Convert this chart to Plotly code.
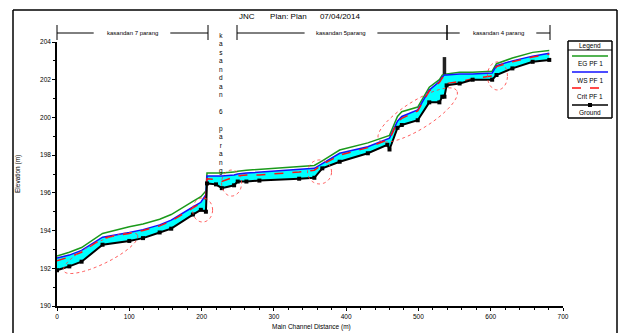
import math
import plotly.graph_objects as go

# ---------------- data ----------------
station = [0, 17, 34, 63, 100, 119, 142, 158, 188, 199, 206, 207.5, 220, 228, 245, 250, 262, 280,
           335, 356, 367, 391, 430, 457, 460, 471, 477, 499, 515, 529, 533, 536, 539, 557, 575,
           602, 608, 630, 658, 681]
ground = [191.9, 192.1, 192.35, 193.25, 193.45, 193.6, 193.9, 194.1, 194.85, 195.1, 195.0, 196.5,
          196.45, 196.25, 196.4, 196.6, 196.6, 196.65, 196.75, 196.8, 197.3, 197.65, 198.1, 198.55,
          198.3, 199.45, 199.6, 199.85, 200.8, 200.8, 201.1, 201.1, 201.7, 201.8, 202.0, 202.0,
          202.25, 202.6, 202.95, 203.05]
ws = [192.55, 192.7, 192.95, 193.65, 193.9, 194.05, 194.3, 194.55, 195.25, 195.5, 195.9, 196.9,
      196.9, 196.9, 196.95, 197.0, 197.05, 197.1, 197.25, 197.3, 197.55, 198.1, 198.45, 198.85,
      198.9, 199.8, 200.05, 200.4, 201.45, 201.9, 202.15, 202.25, 202.25, 202.3, 202.3, 202.35,
      202.75, 203.0, 203.25, 203.4]
eg = [192.65, 192.85, 193.1, 193.85, 194.2, 194.35, 194.6, 194.85, 195.55, 195.8, 196.1, 197.05,
      197.05, 197.05, 197.1, 197.15, 197.2, 197.25, 197.4, 197.45, 197.7, 198.27, 198.65, 199.0,
      199.05, 200.05, 200.3, 200.55, 201.6, 202.0, 202.25, 202.3, 202.3, 202.4, 202.4, 202.45,
      202.85, 203.15, 203.45, 203.55]
crit = [192.4, 192.6, 192.85, 193.6, 193.85, 194.0, 194.25, 194.5, 195.2, 195.45, 195.8, 196.75,
        196.7, 196.6, 196.85, 196.9, 196.95, 196.95, 197.1, 197.2, 197.5, 198.0, 198.4, 198.8,
        198.85, 199.75, 199.95, 200.35, 201.4, 201.85, 202.1, 202.15, 201.8, 201.9, 202.05, 202.2,
        202.7, 202.95, 203.2, 203.35]

struct_station = [536, 536]
struct_elev = [202.3, 203.2]

x_ticks = [0, 100, 200, 300, 400, 500, 600, 700]
y_ticks = [190, 192, 194, 196, 198, 200, 202, 204]

title_text = "JNC       Plan: Plan      07/04/2014"
reaches = [  # (start px, end px, label, text center px)
    (57, 208, "kasandan 7 parang", 132),
    (237, 447, "kasandan 5parang", 341),
    (447, 550, "kasandan 4 parang", 498),
]
vertical_label = "kasandan 6 parang"

# ellipses: center station, center elevation, rx px, ry px, angle deg
ellipses = [
    (60.4, 192.81, 41, 11, 26),
    (201.4, 195.09, 10, 12, 0),
    (241.5, 196.52, 10, 13, 0),
    (363.2, 197.11, 12, 12, 0),
    (499.0, 200.13, 46, 14, 32),
    (609.3, 202.2, 10, 14, 0),
]

# ---------------- layout geometry ----------------
W, H = 625, 333
L, R, T, B = 57, 563, 42, 306
PW, PH = R - L, B - T
XPX = PW / 700.0
YPX = PH / 14.0
FONT = "Liberation Sans"


def P(xp, yp):
    return (xp - L) / PW, (B - yp) / PH


fig = go.Figure()

# cyan fill between ground and water surface
fig.add_trace(go.Scatter(x=station, y=ground, mode="lines", line=dict(color="black", width=0),
                         showlegend=False, hoverinfo="skip"))
fig.add_trace(go.Scatter(x=station, y=ws, mode="lines", line=dict(color="rgba(0,0,0,0)", width=0),
                         fill="tonexty", fillcolor="#00FFFF", showlegend=False, hoverinfo="skip"))
fig.add_trace(go.Scatter(x=station, y=eg, mode="lines", line=dict(color="#1a9a1a", width=1.5),
                         name="EG PF 1", showlegend=False))
fig.add_trace(go.Scatter(x=station, y=ws, mode="lines", line=dict(color="#1010ff", width=1.5),
                         name="WS PF 1", showlegend=False))
fig.add_trace(go.Scatter(x=station, y=crit, mode="lines", line=dict(color="#ff1010", width=1.5, dash="dash"),
                         name="Crit PF 1", showlegend=False))
fig.add_trace(go.Scatter(x=station, y=ground, mode="lines+markers", line=dict(color="black", width=2),
                         marker=dict(symbol="square", size=4, color="black"),
                         name="Ground", showlegend=False))
fig.add_trace(go.Scatter(x=struct_station, y=struct_elev, mode="lines",
                         line=dict(color="#222222", width=3.5), showlegend=False))

shapes = []
annotations = []


def pline(x0p, y0p, x1p, y1p, color="black", width=1.0, dash="solid"):
    a0, b0 = P(x0p, y0p)
    a1, b1 = P(x1p, y1p)
    shapes.append(dict(type="line", xref="paper", yref="paper", x0=a0, y0=b0, x1=a1, y1=b1,
                       line=dict(color=color, width=width, dash=dash)))


def ptext(txt, xp, yp, size=6.5, xanchor="center", angle=0):
    a, b = P(xp, yp)
    annotations.append(dict(text=txt, x=a, y=b, xref="paper", yref="paper", showarrow=False,
                            xanchor=xanchor, yanchor="middle", textangle=angle,
                            font=dict(family=FONT, size=size, color="black")))


# red dotted ellipses
for cx, cy, rx, ry, ang in ellipses:
    a = math.radians(ang)
    pts = []
    for i in range(73):
        t = 2 * math.pi * i / 72
        dx = rx * math.cos(t) * math.cos(a) - ry * math.sin(t) * math.sin(a)
        dy = rx * math.cos(t) * math.sin(a) + ry * math.sin(t) * math.cos(a)
        pts.append((cx + dx / XPX, cy + dy / YPX))
    path = "M " + " L ".join(f"{px:.3f},{py:.4f}" for px, py in pts) + " Z"
    shapes.append(dict(type="path", path=path, xref="x", yref="y",
                       line=dict(color="rgba(255,60,60,0.85)", width=1, dash="dot")))

# outer frame
pline(13, 10, 617, 10, width=1.5)
pline(13, 10, 13, 340, width=1.5)
pline(617, 10, 617, 340, width=1.5)

# title
ptext(title_text, 237, 17, size=8, xanchor="left")

# reach labels
yr = 33
for x0, x1, lab, cpx in reaches:
    half = len(lab) * 1.9 + 6
    pline(x0, yr, cpx - half, yr)
    pline(cpx + half, yr, x1, yr)
    for xe in (x0, x1):
        pline(xe, 25, xe, 40)
    ptext(lab, cpx, yr, size=6)

va, vb = P(221, 30)
annotations.append(dict(text="<br>".join(list(vertical_label)), x=va, y=vb, xref="paper", yref="paper",
                        showarrow=False, xanchor="center", yanchor="top",
                        font=dict(family=FONT, size=6.5, color="black")))

# axis titles
ptext("Elevation (m)", 18, 174, angle=-90)
ptext("Main Channel Distance (m)", 311, 327)

# custom legend
pline(568, 41, 612, 41, width=1.5)
pline(568, 118, 612, 118, width=1.5)
pline(568, 41, 568, 118, width=1.5)
pline(612, 41, 612, 118, width=1.5)
pline(568, 50, 612, 50, width=1)
ptext("Legend", 590, 45.5)
leg_items = [("EG PF 1", "#1a9a1a", "solid", 56, 63),
             ("WS PF 1", "#1010ff", "solid", 72, 80),
             ("Crit PF 1", "#ff1010", "dash", 88, 96),
             ("Ground", "black", "solid", 105, 112)]
for name, col, dash, yl, yt in leg_items:
    pline(572, yl, 608, yl, color=col, width=1.5, dash=dash)
    if name == "Ground":
        m0, n0 = P(588, yl - 2)
        m1, n1 = P(592, yl + 2)
        shapes.append(dict(type="rect", xref="paper", yref="paper", x0=m0, y0=n1, x1=m1, y1=n0,
                           fillcolor="black", line=dict(color="black", width=0)))
    ptext(name, 590, yt)

fig.update_layout(
    width=W, height=H,
    margin=dict(l=L, r=W - R, t=T, b=H - B),
    paper_bgcolor="white", plot_bgcolor="white",
    showlegend=False,
    shapes=shapes, annotations=annotations,
    xaxis=dict(range=[0, 700], tickvals=x_ticks, ticktext=[str(v) for v in x_ticks],
               showgrid=False, zeroline=False, showline=True, linecolor="black", linewidth=1.5,
               ticks="outside", ticklen=3, tickcolor="black",
               minor=dict(dtick=20, ticks="outside", ticklen=2, tickcolor="black"),
               tickfont=dict(family=FONT, size=6.5, color="black")),
    yaxis=dict(range=[190, 204], tickvals=y_ticks, ticktext=[str(v) for v in y_ticks],
               showgrid=False, zeroline=False, showline=True, linecolor="black", linewidth=1.5,
               ticks="outside", ticklen=3, tickcolor="black",
               minor=dict(dtick=1, ticks="outside", ticklen=2, tickcolor="black"),
               tickfont=dict(family=FONT, size=6.5, color="black")),
)

fig.write_html("out.html")
